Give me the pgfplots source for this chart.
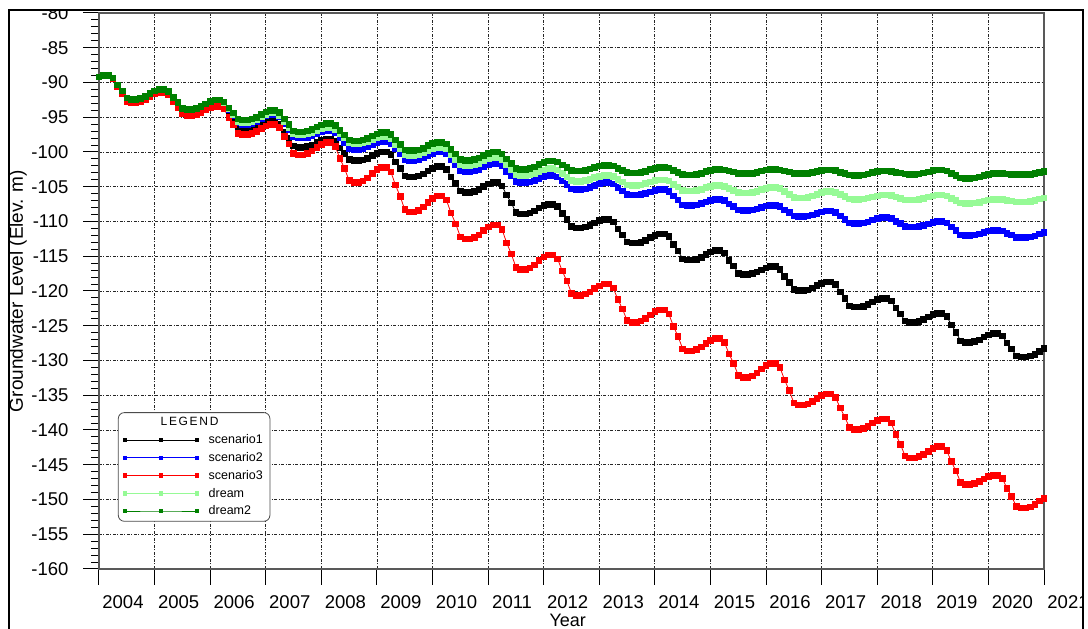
\documentclass[border=0pt]{standalone}
\usepackage{pgfplots}
\pgfplotsset{compat=1.18}
\usepackage{fontspec}
\setmainfont{Liberation Sans}
\definecolor{dreamc}{RGB}{150,250,150}
\definecolor{dreamtwo}{RGB}{0,128,0}
\begin{document}
\begin{tikzpicture}
\useasboundingbox (0,0) rectangle (1088pt,629pt);
\begin{scope}
\clip (9pt,-20pt) rectangle (1083pt,619pt);
\begin{axis}[
  at={(99pt,60pt)}, anchor=south west,
  scale only axis, width=945pt, height=556pt,
  xmin=0, xmax=204, ymin=-160, ymax=-80,
  xtick={0,12,24,36,48,60,72,84,96,108,120,132,144,156,168,180,192,204},
  xticklabels={2004,2005,2006,2007,2008,2009,2010,2011,2012,2013,2014,2015,2016,2017,2018,2019,2020,2021},
  ytick={-160,-155,-150,-145,-140,-135,-130,-125,-120,-115,-110,-105,-100,-95,-90,-85,-80},
  minor y tick num=4,
  xtick pos=bottom, ytick pos=left,
  tick align=outside, major tick length=16pt, minor tick length=8pt,
  tick style={black, line width=1pt},
  grid=major,
  major grid style={black!85, line width=0.8pt, dash pattern=on 3pt off 1.5pt on 1pt off 1.5pt},
  axis line style={black!65, line width=1.3pt},
  /pgf/number format/assume math mode=true,
  ticklabel style={font=\fontsize{18.5}{20}\selectfont},
  xticklabel style={xshift=24pt, yshift=-7pt},
  yticklabel style={xshift=-11pt},
  xlabel={Year}, ylabel={Groundwater Level (Elev. m)},
  xlabel style={font=\fontsize{18}{20}\selectfont, at={(axis description cs:0.496,0)}, anchor=center, yshift=-51pt},
  ylabel style={font=\fontsize{19}{20}\selectfont, at={(axis description cs:-0.0857,0.50)}, anchor=center},
  every axis plot/.append style={line width=0.8pt, mark=square*, mark size=2.8pt, mark options={solid}},
  legend style={at={(rel axis cs:0.020,0.282)}, anchor=north west, draw=black!70, line width=0.8pt,
    rounded corners=6pt, fill=white, font=\fontsize{12.5}{14}\selectfont,
    inner xsep=5pt, inner ysep=3pt, row sep=3.2pt,
    /tikz/column 1/.style={column sep=8pt}},
  legend cell align=left,
  legend image code/.code={\draw plot coordinates {(0pt,0pt) (36pt,0pt) (72pt,0pt)};},
  legend image post style={mark size=1.7pt, line width=0.8pt},
]
\addlegendimage{empty legend}
\addlegendentry{\hspace*{-48pt}{\fontsize{12}{13}\selectfont\addfontfeature{LetterSpace=14}LEGEND}}

% scenario1
\addplot[color=black] table[header=false, row sep=\\, x expr=\coordindex, y index=0] {
-89.2\\ -89.0\\ -89.0\\ -89.39\\ -90.56\\ -91.54\\ -92.71\\ -92.9\\ -92.9\\ -92.75\\ -92.45\\ -92.0\\
-91.63\\ -91.4\\ -91.4\\ -91.73\\ -92.72\\ -93.55\\ -94.54\\ -94.7\\ -94.7\\ -94.57\\ -94.31\\ -93.92\\
-93.6\\ -93.4\\ -93.4\\ -93.74\\ -94.76\\ -95.61\\ -96.63\\ -96.8\\ -96.8\\ -96.68\\ -96.44\\ -96.08\\
-95.78\\ -95.6\\ -95.6\\ -95.97\\ -97.08\\ -98.01\\ -99.12\\ -99.3\\ -99.3\\ -99.19\\ -98.97\\ -98.64\\
-98.37\\ -98.2\\ -98.2\\ -98.51\\ -99.42\\ -100.18\\ -101.1\\ -101.25\\ -101.25\\ -101.13\\ -100.88\\ -100.5\\
-100.19\\ -100.0\\ -100.0\\ -100.36\\ -101.44\\ -102.34\\ -103.42\\ -103.6\\ -103.6\\ -103.45\\ -103.15\\ -102.7\\
-102.33\\ -102.1\\ -102.1\\ -102.47\\ -103.58\\ -104.51\\ -105.62\\ -105.8\\ -105.8\\ -105.66\\ -105.38\\ -104.96\\
-104.61\\ -104.4\\ -104.4\\ -104.85\\ -106.2\\ -107.33\\ -108.68\\ -108.9\\ -108.9\\ -108.76\\ -108.48\\ -108.06\\
-107.71\\ -107.5\\ -107.5\\ -107.84\\ -108.86\\ -109.71\\ -110.73\\ -110.9\\ -110.9\\ -110.78\\ -110.54\\ -110.18\\
-109.88\\ -109.7\\ -109.7\\ -110.04\\ -111.06\\ -111.91\\ -112.93\\ -113.1\\ -113.1\\ -112.97\\ -112.71\\ -112.32\\
-112.0\\ -111.8\\ -111.8\\ -112.18\\ -113.3\\ -114.24\\ -115.36\\ -115.55\\ -115.55\\ -115.42\\ -115.15\\ -114.74\\
-114.4\\ -114.2\\ -114.2\\ -114.54\\ -115.56\\ -116.41\\ -117.43\\ -117.6\\ -117.6\\ -117.49\\ -117.27\\ -116.94\\
-116.67\\ -116.5\\ -116.5\\ -116.85\\ -117.88\\ -118.74\\ -119.78\\ -119.95\\ -119.95\\ -119.83\\ -119.58\\ -119.2\\
-118.89\\ -118.7\\ -118.7\\ -119.06\\ -120.14\\ -121.04\\ -122.12\\ -122.3\\ -122.3\\ -122.18\\ -121.93\\ -121.55\\
-121.24\\ -121.05\\ -121.05\\ -121.4\\ -122.43\\ -123.29\\ -124.33\\ -124.5\\ -124.5\\ -124.37\\ -124.11\\ -123.72\\
-123.4\\ -123.2\\ -123.2\\ -123.62\\ -124.88\\ -125.93\\ -127.19\\ -127.4\\ -127.4\\ -127.27\\ -127.01\\ -126.62\\
-126.3\\ -126.1\\ -126.1\\ -126.44\\ -127.46\\ -128.31\\ -129.33\\ -129.5\\ -129.5\\ -129.36\\ -129.08\\ -128.65\\
-128.3\\
};
\addlegendentry{scenario1}

% scenario2
\addplot[color=blue] table[header=false, row sep=\\, x expr=\coordindex, y index=0] {
-89.2\\ -89.0\\ -89.0\\ -89.35\\ -90.4\\ -91.28\\ -92.33\\ -92.5\\ -92.5\\ -92.35\\ -92.05\\ -91.6\\
-91.23\\ -91.0\\ -91.0\\ -91.3\\ -92.2\\ -92.95\\ -93.85\\ -94.0\\ -94.0\\ -93.86\\ -93.58\\ -93.16\\
-92.81\\ -92.6\\ -92.6\\ -92.94\\ -93.96\\ -94.81\\ -95.83\\ -96.0\\ -96.0\\ -95.86\\ -95.58\\ -95.16\\
-94.81\\ -94.6\\ -94.6\\ -94.94\\ -95.96\\ -96.81\\ -97.83\\ -98.0\\ -98.0\\ -97.89\\ -97.67\\ -97.34\\
-97.07\\ -96.9\\ -96.9\\ -97.17\\ -97.98\\ -98.66\\ -99.47\\ -99.6\\ -99.6\\ -99.49\\ -99.27\\ -98.94\\
-98.67\\ -98.5\\ -98.5\\ -98.77\\ -99.58\\ -100.26\\ -101.07\\ -101.2\\ -101.2\\ -101.08\\ -100.84\\ -100.48\\
-100.18\\ -100.0\\ -100.0\\ -100.28\\ -101.12\\ -101.82\\ -102.66\\ -102.8\\ -102.8\\ -102.69\\ -102.47\\ -102.14\\
-101.87\\ -101.7\\ -101.7\\ -101.97\\ -102.78\\ -103.46\\ -104.27\\ -104.4\\ -104.4\\ -104.3\\ -104.09\\ -103.77\\
-103.51\\ -103.35\\ -103.35\\ -103.56\\ -104.17\\ -104.68\\ -105.3\\ -105.4\\ -105.4\\ -105.3\\ -105.1\\ -104.8\\
-104.55\\ -104.4\\ -104.4\\ -104.58\\ -105.12\\ -105.57\\ -106.11\\ -106.2\\ -106.2\\ -106.12\\ -105.96\\ -105.72\\
-105.52\\ -105.4\\ -105.4\\ -105.63\\ -106.32\\ -106.9\\ -107.59\\ -107.7\\ -107.7\\ -107.61\\ -107.43\\ -107.16\\
-106.94\\ -106.8\\ -106.8\\ -106.96\\ -107.44\\ -107.84\\ -108.32\\ -108.4\\ -108.4\\ -108.33\\ -108.18\\ -107.95\\
-107.76\\ -107.65\\ -107.65\\ -107.82\\ -108.31\\ -108.72\\ -109.22\\ -109.3\\ -109.3\\ -109.22\\ -109.06\\ -108.82\\
-108.62\\ -108.5\\ -108.5\\ -108.68\\ -109.22\\ -109.67\\ -110.21\\ -110.3\\ -110.3\\ -110.21\\ -110.03\\ -109.76\\
-109.54\\ -109.4\\ -109.4\\ -109.54\\ -109.96\\ -110.31\\ -110.73\\ -110.8\\ -110.8\\ -110.72\\ -110.56\\ -110.32\\
-110.12\\ -110.0\\ -110.0\\ -110.2\\ -110.8\\ -111.3\\ -111.9\\ -112.0\\ -112.0\\ -111.93\\ -111.78\\ -111.55\\
-111.36\\ -111.25\\ -111.25\\ -111.36\\ -111.67\\ -111.93\\ -112.25\\ -112.3\\ -112.3\\ -112.22\\ -112.05\\ -111.81\\
-111.6\\
};
\addlegendentry{scenario2}

% scenario3
\addplot[color=red] table[header=false, row sep=\\, x expr=\coordindex, y index=0] {
-89.2\\ -89.0\\ -89.0\\ -89.39\\ -90.56\\ -91.54\\ -92.71\\ -92.9\\ -92.9\\ -92.75\\ -92.45\\ -92.0\\
-91.63\\ -91.4\\ -91.4\\ -91.73\\ -92.72\\ -93.55\\ -94.54\\ -94.7\\ -94.7\\ -94.57\\ -94.31\\ -93.92\\
-93.6\\ -93.4\\ -93.4\\ -93.81\\ -95.04\\ -96.07\\ -97.3\\ -97.5\\ -97.5\\ -97.35\\ -97.05\\ -96.6\\
-96.23\\ -96.0\\ -96.0\\ -96.44\\ -97.76\\ -98.86\\ -100.18\\ -100.4\\ -100.4\\ -100.22\\ -99.86\\ -99.32\\
-98.87\\ -98.6\\ -98.6\\ -99.18\\ -100.92\\ -102.37\\ -104.11\\ -104.4\\ -104.4\\ -104.18\\ -103.74\\ -103.08\\
-102.53\\ -102.2\\ -102.2\\ -102.84\\ -104.76\\ -106.36\\ -108.28\\ -108.6\\ -108.6\\ -108.37\\ -107.91\\ -107.22\\
-106.65\\ -106.3\\ -106.3\\ -106.92\\ -108.78\\ -110.33\\ -112.19\\ -112.5\\ -112.5\\ -112.3\\ -111.9\\ -111.3\\
-110.8\\ -110.5\\ -110.5\\ -111.14\\ -113.06\\ -114.66\\ -116.58\\ -116.9\\ -116.9\\ -116.69\\ -116.27\\ -115.64\\
-115.12\\ -114.8\\ -114.8\\ -115.38\\ -117.12\\ -118.57\\ -120.31\\ -120.6\\ -120.6\\ -120.44\\ -120.12\\ -119.64\\
-119.24\\ -119.0\\ -119.0\\ -119.55\\ -121.2\\ -122.58\\ -124.23\\ -124.5\\ -124.5\\ -124.32\\ -123.96\\ -123.42\\
-122.97\\ -122.7\\ -122.7\\ -123.29\\ -125.06\\ -126.54\\ -128.31\\ -128.6\\ -128.6\\ -128.42\\ -128.06\\ -127.52\\
-127.07\\ -126.8\\ -126.8\\ -127.36\\ -129.04\\ -130.44\\ -132.12\\ -132.4\\ -132.4\\ -132.2\\ -131.8\\ -131.2\\
-130.7\\ -130.4\\ -130.4\\ -131.0\\ -132.8\\ -134.3\\ -136.1\\ -136.4\\ -136.4\\ -136.24\\ -135.92\\ -135.44\\
-135.04\\ -134.8\\ -134.8\\ -135.31\\ -136.84\\ -138.12\\ -139.65\\ -139.9\\ -139.9\\ -139.75\\ -139.45\\ -139.0\\
-138.63\\ -138.4\\ -138.4\\ -138.96\\ -140.64\\ -142.04\\ -143.72\\ -144.0\\ -144.0\\ -143.84\\ -143.52\\ -143.04\\
-142.64\\ -142.4\\ -142.4\\ -142.94\\ -144.56\\ -145.91\\ -147.53\\ -147.8\\ -147.8\\ -147.67\\ -147.41\\ -147.02\\
-146.7\\ -146.5\\ -146.5\\ -146.97\\ -148.38\\ -149.56\\ -150.97\\ -151.2\\ -151.2\\ -151.04\\ -150.71\\ -150.21\\
-149.8\\
};
\addlegendentry{scenario3}

% dream
\addplot[color=dreamc] table[header=false, row sep=\\, x expr=\coordindex, y index=0] {
-89.2\\ -89.0\\ -89.0\\ -89.34\\ -90.36\\ -91.21\\ -92.23\\ -92.4\\ -92.4\\ -92.26\\ -91.98\\ -91.56\\
-91.21\\ -91.0\\ -91.0\\ -91.29\\ -92.16\\ -92.89\\ -93.76\\ -93.9\\ -93.9\\ -93.76\\ -93.48\\ -93.06\\
-92.71\\ -92.5\\ -92.5\\ -92.83\\ -93.82\\ -94.65\\ -95.64\\ -95.8\\ -95.8\\ -95.66\\ -95.38\\ -94.96\\
-94.61\\ -94.4\\ -94.4\\ -94.71\\ -95.64\\ -96.42\\ -97.35\\ -97.5\\ -97.5\\ -97.4\\ -97.2\\ -96.9\\
-96.65\\ -96.5\\ -96.5\\ -96.73\\ -97.42\\ -98.0\\ -98.69\\ -98.8\\ -98.8\\ -98.7\\ -98.5\\ -98.2\\
-97.95\\ -97.8\\ -97.8\\ -98.07\\ -98.88\\ -99.56\\ -100.37\\ -100.5\\ -100.5\\ -100.38\\ -100.14\\ -99.78\\
-99.48\\ -99.3\\ -99.3\\ -99.57\\ -100.38\\ -101.06\\ -101.87\\ -102.0\\ -102.0\\ -101.88\\ -101.64\\ -101.28\\
-100.98\\ -100.8\\ -100.8\\ -101.06\\ -101.84\\ -102.49\\ -103.27\\ -103.4\\ -103.4\\ -103.3\\ -103.1\\ -102.8\\
-102.55\\ -102.4\\ -102.4\\ -102.58\\ -103.12\\ -103.57\\ -104.11\\ -104.2\\ -104.2\\ -104.12\\ -103.95\\ -103.69\\
-103.48\\ -103.35\\ -103.35\\ -103.5\\ -103.93\\ -104.29\\ -104.73\\ -104.8\\ -104.8\\ -104.72\\ -104.56\\ -104.32\\
-104.12\\ -104.0\\ -104.0\\ -104.16\\ -104.64\\ -105.04\\ -105.52\\ -105.6\\ -105.6\\ -105.52\\ -105.36\\ -105.12\\
-104.92\\ -104.8\\ -104.8\\ -104.91\\ -105.24\\ -105.52\\ -105.85\\ -105.9\\ -105.9\\ -105.82\\ -105.66\\ -105.42\\
-105.22\\ -105.1\\ -105.1\\ -105.25\\ -105.7\\ -106.08\\ -106.53\\ -106.6\\ -106.6\\ -106.51\\ -106.33\\ -106.06\\
-105.84\\ -105.7\\ -105.7\\ -105.81\\ -106.14\\ -106.42\\ -106.75\\ -106.8\\ -106.8\\ -106.74\\ -106.62\\ -106.44\\
-106.29\\ -106.2\\ -106.2\\ -106.27\\ -106.48\\ -106.66\\ -106.87\\ -106.9\\ -106.9\\ -106.83\\ -106.69\\ -106.48\\
-106.31\\ -106.2\\ -106.2\\ -106.32\\ -106.68\\ -106.98\\ -107.34\\ -107.4\\ -107.4\\ -107.34\\ -107.22\\ -107.04\\
-106.89\\ -106.8\\ -106.8\\ -106.84\\ -106.96\\ -107.06\\ -107.18\\ -107.2\\ -107.2\\ -107.13\\ -106.99\\ -106.77\\
-106.6\\
};
\addlegendentry{dream}

% dream2
\addplot[color=dreamtwo] table[header=false, row sep=\\, x expr=\coordindex, y index=0] {
-89.2\\ -89.0\\ -89.0\\ -89.34\\ -90.36\\ -91.21\\ -92.23\\ -92.4\\ -92.4\\ -92.26\\ -91.98\\ -91.56\\
-91.21\\ -91.0\\ -91.0\\ -91.29\\ -92.16\\ -92.89\\ -93.76\\ -93.9\\ -93.9\\ -93.76\\ -93.48\\ -93.06\\
-92.71\\ -92.5\\ -92.5\\ -92.79\\ -93.66\\ -94.39\\ -95.26\\ -95.4\\ -95.4\\ -95.26\\ -94.98\\ -94.56\\
-94.21\\ -94.0\\ -94.0\\ -94.31\\ -95.24\\ -96.02\\ -96.95\\ -97.1\\ -97.1\\ -96.98\\ -96.74\\ -96.38\\
-96.08\\ -95.9\\ -95.9\\ -96.15\\ -96.9\\ -97.53\\ -98.28\\ -98.4\\ -98.4\\ -98.28\\ -98.04\\ -97.68\\
-97.38\\ -97.2\\ -97.2\\ -97.46\\ -98.24\\ -98.89\\ -99.67\\ -99.8\\ -99.8\\ -99.68\\ -99.44\\ -99.08\\
-98.78\\ -98.6\\ -98.6\\ -98.86\\ -99.64\\ -100.29\\ -101.07\\ -101.2\\ -101.2\\ -101.08\\ -100.84\\ -100.48\\
-100.18\\ -100.0\\ -100.0\\ -100.25\\ -101.0\\ -101.63\\ -102.38\\ -102.5\\ -102.5\\ -102.38\\ -102.14\\ -101.78\\
-101.48\\ -101.3\\ -101.3\\ -101.44\\ -101.86\\ -102.21\\ -102.63\\ -102.7\\ -102.7\\ -102.62\\ -102.46\\ -102.22\\
-102.02\\ -101.9\\ -101.9\\ -102.01\\ -102.34\\ -102.62\\ -102.95\\ -103.0\\ -103.0\\ -102.92\\ -102.76\\ -102.52\\
-102.32\\ -102.2\\ -102.2\\ -102.31\\ -102.64\\ -102.92\\ -103.25\\ -103.3\\ -103.3\\ -103.22\\ -103.06\\ -102.82\\
-102.62\\ -102.5\\ -102.5\\ -102.56\\ -102.74\\ -102.89\\ -103.07\\ -103.1\\ -103.1\\ -103.04\\ -102.92\\ -102.74\\
-102.59\\ -102.5\\ -102.5\\ -102.56\\ -102.74\\ -102.89\\ -103.07\\ -103.1\\ -103.1\\ -103.05\\ -102.95\\ -102.8\\
-102.68\\ -102.6\\ -102.6\\ -102.68\\ -102.9\\ -103.09\\ -103.31\\ -103.35\\ -103.35\\ -103.29\\ -103.16\\ -102.96\\
-102.8\\ -102.7\\ -102.7\\ -102.75\\ -102.9\\ -103.03\\ -103.18\\ -103.2\\ -103.2\\ -103.14\\ -103.02\\ -102.84\\
-102.69\\ -102.6\\ -102.6\\ -102.72\\ -103.08\\ -103.38\\ -103.74\\ -103.8\\ -103.8\\ -103.73\\ -103.59\\ -103.38\\
-103.21\\ -103.1\\ -103.1\\ -103.12\\ -103.16\\ -103.2\\ -103.24\\ -103.25\\ -103.25\\ -103.2\\ -103.09\\ -102.93\\
-102.8\\
};
\addlegendentry{dream2}
\end{axis}
\end{scope}
\draw[line width=2pt] (9pt,-5pt) -- (9pt,619pt) -- (1083pt,619pt) -- (1083pt,-5pt);
\end{tikzpicture}
\end{document}
